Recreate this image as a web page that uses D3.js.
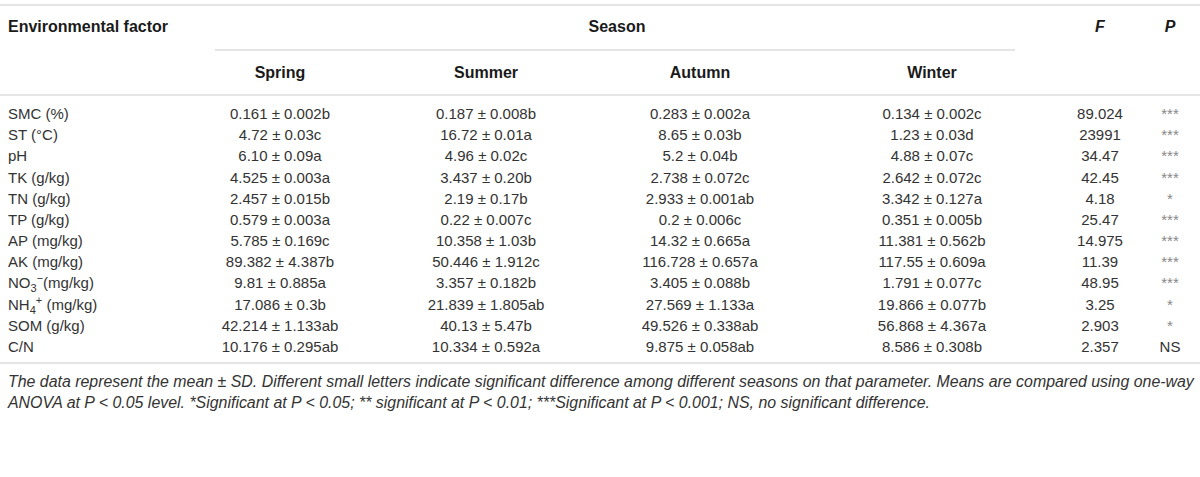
<!DOCTYPE html>
<html>
<head>
<meta charset="utf-8">
<title>Environmental factors by season</title>
<script src="https://d3js.org/d3.v7.min.js"></script>
<style>
  html, body { margin: 0; padding: 0; background: #fff; }
  svg { display: block; font-family: "Liberation Sans", Arial, Helvetica, sans-serif; }
  .rule { stroke: #dcdcdc; stroke-width: 1.5; }
  .head { font-weight: bold; fill: #1a1a1a; font-size: 16px; }
  .cell { fill: #333; font-size: 15px; }
  .note { fill: #333; font-size: 15px; font-style: italic; }
</style>
</head>
<body>
<svg id="svg" width="1200" height="477"></svg>
<script>
  const factors = ["SMC (%)", "ST (°C)", "pH", "TK (g/kg)", "TN (g/kg)", "TP (g/kg)",
    "AP (mg/kg)", "AK (mg/kg)", "NO3-", "NH4+", "SOM (g/kg)", "C/N"];
  const seasons = ["Spring", "Summer", "Autumn", "Winter"];
  const spring = ["0.161 ± 0.002b", "4.72 ± 0.03c", "6.10 ± 0.09a", "4.525 ± 0.003a",
    "2.457 ± 0.015b", "0.579 ± 0.003a", "5.785 ± 0.169c", "89.382 ± 4.387b",
    "9.81 ± 0.885a", "17.086 ± 0.3b", "42.214 ± 1.133ab", "10.176 ± 0.295ab"];
  const summer = ["0.187 ± 0.008b", "16.72 ± 0.01a", "4.96 ± 0.02c", "3.437 ± 0.20b",
    "2.19 ± 0.17b", "0.22 ± 0.007c", "10.358 ± 1.03b", "50.446 ± 1.912c",
    "3.357 ± 0.182b", "21.839 ± 1.805ab", "40.13 ± 5.47b", "10.334 ± 0.592a"];
  const autumn = ["0.283 ± 0.002a", "8.65 ± 0.03b", "5.2 ± 0.04b", "2.738 ± 0.072c",
    "2.933 ± 0.001ab", "0.2 ± 0.006c", "14.32 ± 0.665a", "116.728 ± 0.657a",
    "3.405 ± 0.088b", "27.569 ± 1.133a", "49.526 ± 0.338ab", "9.875 ± 0.058ab"];
  const winter = ["0.134 ± 0.002c", "1.23 ± 0.03d", "4.88 ± 0.07c", "2.642 ± 0.072c",
    "3.342 ± 0.127a", "0.351 ± 0.005b", "11.381 ± 0.562b", "117.55 ± 0.609a",
    "1.791 ± 0.077c", "19.866 ± 0.077b", "56.868 ± 4.367a", "8.586 ± 0.308b"];
  const fValues = ["89.024", "23991", "34.47", "42.45", "4.18", "25.47",
    "14.975", "11.39", "48.95", "3.25", "2.903", "2.357"];
  const pValues = ["***", "***", "***", "***", "*", "***", "***", "***", "***", "*", "*", "NS"];
  const noteLines = [
    "The data represent the mean ± SD. Different small letters indicate significant difference among different seasons on that parameter. Means are compared using one-way",
    "ANOVA at P < 0.05 level. *Significant at P < 0.05; ** significant at P < 0.01; ***Significant at P < 0.001; NS, no significant difference."
  ];

  const svg = d3.select("#svg");
  const columns = ["Spring", "Summer", "Autumn", "Winter", "F", "P"];
  const x = d3.scaleOrdinal().domain(columns).range([280, 486, 700, 932, 1100, 1170]);
  const y = d3.scalePoint().domain(factors).range([114, 347]);
  const colValues = [spring, summer, autumn, winter, fValues, pValues];

  // rules
  const rules = [[0, 1200, 5], [215, 1015, 50], [0, 1200, 95], [0, 1200, 363]];
  svg.selectAll("line.rule").data(rules).join("line")
    .attr("class", "rule")
    .attr("x1", d => d[0]).attr("x2", d => d[1])
    .attr("y1", d => d[2]).attr("y2", d => d[2]);

  // header
  svg.append("text").attr("class", "head").attr("x", 8).attr("y", 32).text("Environmental factor");
  svg.append("text").attr("class", "head").attr("x", 617).attr("y", 32)
    .attr("text-anchor", "middle").text("Season");
  ["F", "P"].forEach(k => {
    svg.append("text").attr("class", "head").attr("x", x(k)).attr("y", 32)
      .attr("text-anchor", "middle").style("font-style", "italic").text(k);
  });
  svg.selectAll("text.season").data(seasons).join("text")
    .attr("class", "head season")
    .attr("x", d => x(d)).attr("y", 78)
    .attr("text-anchor", "middle").text(d => d);

  // factor labels (sub/superscripts for the ions)
  const labels = svg.selectAll("text.factor").data(factors).join("text")
    .attr("class", "cell factor")
    .attr("x", 8).attr("y", d => y(d) + 5);
  labels.each(function (d) {
    const t = d3.select(this);
    if (d === "NO3-" || d === "NH4+") {
      t.append("tspan").text(d.slice(0, 2));
      t.append("tspan").attr("dy", 4).style("font-size", "11px").text(d[2]);
      t.append("tspan").attr("dy", -10).style("font-size", "11px")
        .text(d[3] === "-" ? "\u2212" : "+");
      t.append("tspan").attr("dy", 6).text(d === "NO3-" ? "(mg/kg)" : " (mg/kg)");
    } else {
      t.text(d);
    }
  });

  // value cells
  columns.forEach((c, i) => {
    svg.selectAll("text.col" + i).data(colValues[i]).join("text")
      .attr("class", "cell col" + i)
      .attr("x", x(c))
      .attr("y", (d, j) => y(factors[j]) + 5)
      .attr("text-anchor", "middle")
      .style("fill", d => d.startsWith("*") ? "#888" : null)
      .text(d => d);
  });

  // footnote, stretched to the width the first line takes in the table
  const notes = svg.selectAll("text.note").data(noteLines).join("text")
    .attr("class", "note")
    .attr("x", 8).attr("y", (d, i) => 387 + i * 21)
    .text(d => d);
  const w0 = notes.node().getComputedTextLength();
  const fs = 15 * 1187 / w0;
  notes.style("font-size", fs + "px");
</script>
</body>
</html>
